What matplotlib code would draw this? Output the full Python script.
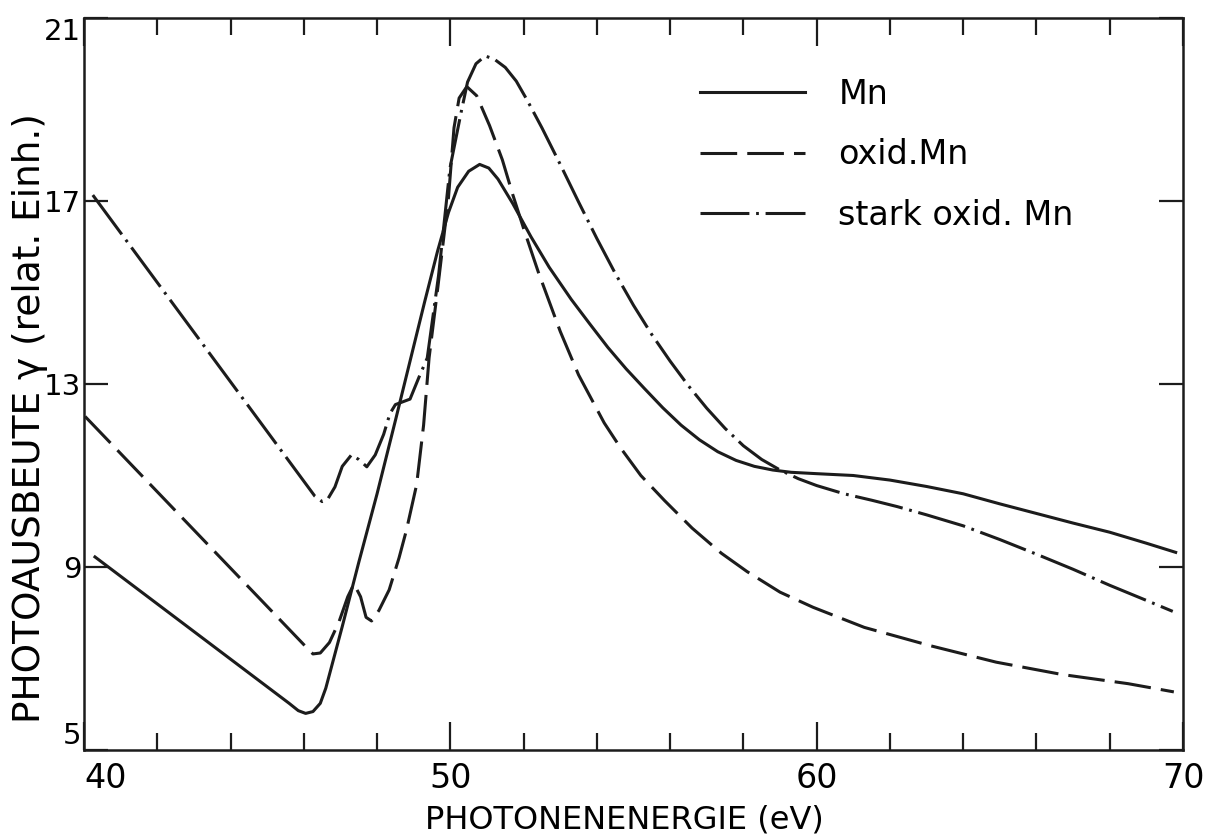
import matplotlib

matplotlib.use("Agg")

import matplotlib.pyplot as plt  # noqa: E402
from matplotlib.ticker import MultipleLocator  # noqa: E402

# ─── Data ────────────────────────────────────────────────────────────────────

mn_x = [40.3, 45.6, 45.85, 46.05, 46.25, 46.45, 46.6, 47.05, 47.5, 48.0,
        48.5, 48.9, 49.3, 49.65, 49.95, 50.2, 50.5, 50.8, 51.05, 51.3,
        51.7, 52.2, 52.7, 53.3, 53.8, 54.3, 54.8, 55.3, 55.8, 56.3,
        56.8, 57.3, 57.8, 58.3, 58.8, 59.3, 60.0, 61.0, 62.0, 63.0,
        64.0, 65.0, 66.0, 67.0, 68.0, 69.0, 69.8]
mn_y = [9.22, 6.02, 5.86, 5.80, 5.84, 6.02, 6.35, 7.70, 9.10, 10.60,
        12.20, 13.50, 14.80, 15.90, 16.75, 17.30, 17.65, 17.80, 17.72, 17.48,
        16.95, 16.22, 15.55, 14.85, 14.32, 13.80, 13.33, 12.90, 12.48, 12.10,
        11.78, 11.52, 11.33, 11.20, 11.12, 11.07, 11.04, 11.00, 10.90, 10.76,
        10.60, 10.38, 10.17, 9.96, 9.76, 9.52, 9.32]

oxid_x = [40.03, 46.1, 46.25, 46.45, 46.7, 46.96, 47.2, 47.37, 47.55, 47.7,
          47.85, 48.05, 48.33, 48.6, 48.8, 49.08, 49.27, 49.42, 49.66, 49.95,
          50.1, 50.24, 50.45, 50.72, 51.07, 51.42, 51.7, 52.0, 52.4, 52.7,
          53.0, 53.5, 54.2, 54.65, 55.2, 55.85, 56.6, 57.4, 58.1, 59.0,
          59.9, 61.3, 63.1, 64.9, 66.7, 68.5, 69.75]
oxid_y = [12.29, 7.22, 7.10, 7.12, 7.35, 7.80, 8.35, 8.63, 8.35, 7.90,
          7.82, 8.05, 8.50, 9.20, 9.80, 10.80, 12.10, 13.57, 15.12, 17.08,
          18.60, 19.25, 19.50, 19.30, 18.65, 17.90, 17.15, 16.40, 15.45, 14.80,
          14.15, 13.20, 12.15, 11.60, 11.00, 10.45, 9.85, 9.30, 8.90, 8.45,
          8.12, 7.68, 7.28, 6.92, 6.65, 6.45, 6.27]

stark_x = [40.24, 46.3, 46.5, 46.65, 46.85, 47.05, 47.3, 47.5, 47.72, 47.95,
           48.18, 48.35, 48.5, 48.9, 49.14, 49.37, 49.68, 49.99, 50.3, 50.47,
           50.7, 50.95, 51.2, 51.5, 51.8, 52.1, 52.5, 53.0, 53.5, 54.0,
           54.5, 55.0, 55.5, 56.0, 56.5, 57.0, 57.5, 58.0, 58.5, 59.0,
           59.5, 60.0, 60.75, 61.5, 62.2, 63.0, 64.0, 65.0, 66.0, 67.0,
           68.0, 69.0, 69.72]
stark_y = [17.13, 10.55, 10.43, 10.48, 10.75, 11.20, 11.45, 11.35, 11.19, 11.45,
           11.90, 12.35, 12.55, 12.67, 13.14, 13.57, 15.38, 17.72, 18.96, 19.60,
           20.00, 20.17, 20.10, 19.92, 19.62, 19.20, 18.60, 17.80, 16.98, 16.18,
           15.42, 14.72, 14.08, 13.50, 12.96, 12.47, 12.03, 11.65, 11.35, 11.12,
           10.93, 10.78, 10.60, 10.46, 10.32, 10.14, 9.90, 9.60, 9.28, 8.95,
           8.60, 8.27, 8.03]

series_labels = ["Mn", "oxid.Mn", "stark oxid. Mn"]

x_major = [40, 50, 60, 70]
y_major = [5, 9, 13, 17, 21]

INK = "#1c1c1c"
LW = 2.2

fig = plt.figure(figsize=(12.06, 8.4), dpi=100)
ax = fig.add_axes([84 / 1206, 90 / 840, 1099 / 1206, 732 / 840])

ax.plot(mn_x, mn_y, color=INK, lw=LW, linestyle="-", label=series_labels[0])
ax.plot(oxid_x, oxid_y, color=INK, lw=LW, linestyle=(0, (12, 3.3)),
        label=series_labels[1])
ax.plot(stark_x, stark_y, color=INK, lw=LW,
        linestyle=(0, (16, 2.2, 0.9, 2.2)), label=series_labels[2])

ax.set_xlim(40, 70)
ax.set_ylim(5, 21)
ax.set_xticks(x_major)
ax.xaxis.set_minor_locator(MultipleLocator(2))
ax.set_yticks(y_major)

for side in ax.spines.values():
    side.set_linewidth(1.8)
    side.set_color(INK)

ax.tick_params(which="both", direction="in", top=True, right=True,
               width=1.6, color=INK)
ax.tick_params(axis="x", which="major", length=20, pad=9, labelsize=24)
ax.tick_params(axis="x", which="minor", length=12)
ax.tick_params(axis="y", which="major", length=17, pad=2, labelsize=21)

fig.canvas.draw()
ax.xaxis.get_major_ticks()[0].label1.set_horizontalalignment("left")
ax.yaxis.get_major_ticks()[0].label1.set_verticalalignment("bottom")
ax.yaxis.get_major_ticks()[-1].label1.set_verticalalignment("top")

ax.set_xlabel("PHOTONENENERGIE (eV)", fontsize=23)
ax.xaxis.set_label_coords(0.492, -0.074)
ax.set_ylabel("PHOTOAUSBEUTE γ (relat. Einh.)", fontsize=27)
ax.yaxis.set_label_coords(-0.033, 0.4536)

ax.legend(loc="upper left", bbox_to_anchor=(0.5605, 0.918), frameon=False,
          fontsize=24, handlelength=3.15, handletextpad=1.0,
          labelspacing=0.82, borderpad=0, borderaxespad=0)

fig.savefig("out.png", dpi=100)
plt.close(fig)
